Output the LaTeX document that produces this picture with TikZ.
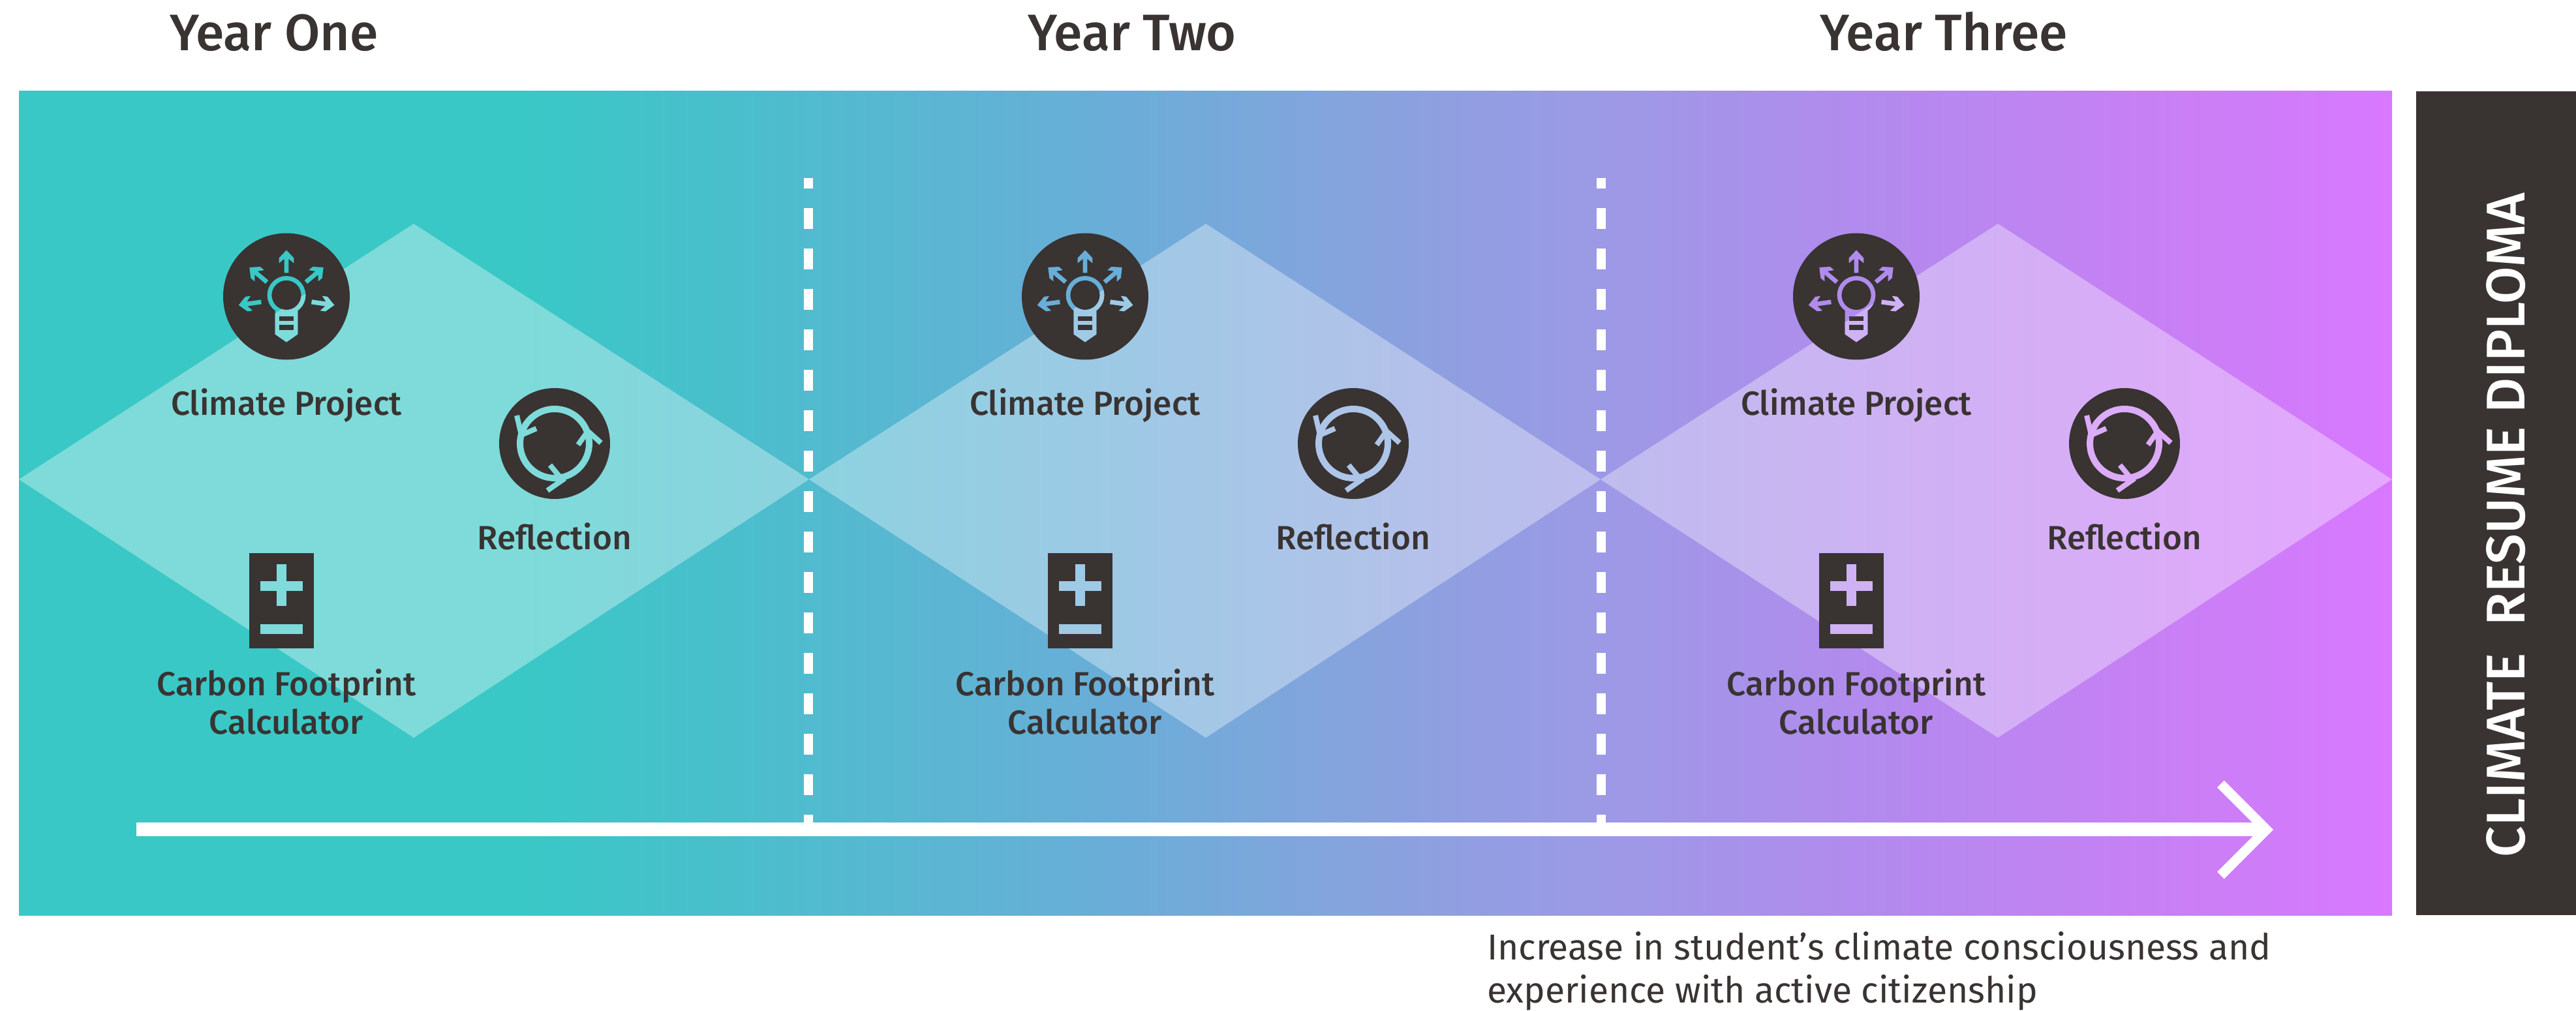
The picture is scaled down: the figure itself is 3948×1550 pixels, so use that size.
\documentclass[tikz,border=0pt]{standalone}
\usepackage{xcolor}
\usepackage{fontspec}
\usetikzlibrary{arrows.meta}
\setmainfont{Fira Sans}
\newfontfamily\labelfont{Fira Sans Medium}
\definecolor{darkbox}{HTML}{393332}
\definecolor{gradA}{HTML}{39C8C6}
\definecolor{gradB}{HTML}{4FBCCE}
\definecolor{gradC}{HTML}{6AADD8}
\definecolor{gradD}{HTML}{7FA6DC}
\definecolor{gradE}{HTML}{8F9FE0}
\definecolor{gradF}{HTML}{9D99E6}
\definecolor{gradG}{HTML}{B489EE}
\definecolor{gradH}{HTML}{C97FF5}
\definecolor{gradI}{HTML}{D878FF}
\pgfdeclarehorizontalshading{yearband}{100bp}{color(0bp)=(gradA); color(35.6bp)=(gradA); color(41.2bp)=(gradB); color(48.2bp)=(gradC); color(51.8bp)=(gradD); color(55bp)=(gradE); color(58.5bp)=(gradF); color(64.5bp)=(gradG); color(70.5bp)=(gradH); color(75bp)=(gradI); color(100bp)=(gradI)}
\begin{document}
\begin{tikzpicture}[
  x=0.1mm, y=-0.1mm,
  every node/.style={inner sep=0pt, outer sep=0pt},
  yeartitle/.style={font=\labelfont\fontsize{22.4}{26}\selectfont, text=darkbox, anchor=base},
  iconlabel/.style={font=\labelfont\fontsize{14.6}{16.8}\selectfont, text=darkbox, align=center, anchor=base},
  note/.style={font=\fontsize{15.7}{18.5}\selectfont, text=darkbox, align=left, anchor=base west},
  iconcircle/.style={circle, fill=darkbox},
  calcbox/.style={rectangle, fill=darkbox, minimum width=9.9mm, minimum height=14.6mm},
  light/.style={fill=white, fill opacity=0.35},
  yearline/.style={white, line width=1.4mm, dash pattern=on 3.2mm off 3mm, dash phase=1.6mm},
  bulb/.pic={
    \draw[line width=0.67mm] (0,-2) circle (26);
    \fill (-17.3,21) -- (17.3,21) -- (17.3,58) -- (0,70) -- (-17.3,58) -- cycle;
    \fill[darkbox] (-11,30.7) rectangle (11,37.3);
    \fill[darkbox] (-11,43.3) rectangle (11,51.3);
    \foreach \a in {90,40,-8,140,188}
      \fill[shift={(0,3)}, rotate=\a] (39,-3.4) -- (60.7,-3.4) -- (54,-11.3) -- (62,-11.3) -- (74,0) -- (62,11.3) -- (54,11.3) -- (60.7,3.4) -- (39,3.4) -- cycle;
  },
  cycle/.pic={
    \draw[line width=1mm] (0,0) circle (53);
    \draw[line width=0.8mm] (-58,-43) -- (-51,-13) -- (-28,-23);
    \draw[line width=0.8mm] (71,-1) -- (51,-19) -- (36,2);
    \draw[line width=0.8mm] (-11,72) -- (12,56) -- (-7,33);
  },
  plusminus/.pic={
    \fill (-33,-30) rectangle (32,-15);
    \fill (-8,-56) rectangle (7,8);
    \fill (-33,36) rectangle (32,51);
  }
]
\useasboundingbox (0,0) rectangle (3948,1550);

% band and side box
\shade[shading=yearband] (29,140) rectangle (3666,1403);
\fill[darkbox] (3703,140) rectangle (3948,1403);
\node[text=white, rotate=90, font=\labelfont\fontsize{23.75}{28}\selectfont] (diploma) at (3841,805) {CLIMATE\ \ RESUME DIPLOMA};

% diamonds
\path[light] (29,735) -- (634,343) -- (1240,735) -- (634,1131) -- cycle;
\path[light] (1240,735) -- (1848,343) -- (2453,735) -- (1848,1131) -- cycle;
\path[light] (2453,735) -- (3062,343) -- (3666,735) -- (3062,1131) -- cycle;

% year dividers and arrow
\coordinate (lineatop) at (1239,273);
\coordinate (lineabot) at (1239,1262);
\coordinate (linebtop) at (2454,273);
\coordinate (linebbot) at (2454,1262);
\coordinate (arrowstart) at (209,1272);
\coordinate (arrowend) at (3484,1272);
\draw[yearline] (lineatop) -- (lineabot);
\draw[yearline] (linebtop) -- (linebbot);
\draw[white, line width=2.1mm, -{Straight Barb[length=7mm, width=14mm, line width=1.5mm]}] (arrowstart) -- (arrowend);

% titles
\node[yeartitle] (yearone) at (420,78) {Year One};
\node[yeartitle] (yeartwo) at (1735,78) {Year Two};
\node[yeartitle] (yearthree) at (2979,78) {Year Three};

% year one
\node[iconcircle, minimum size=19.4mm] (bulba) at (439,454.5) {};
\pic[color=gradA] at (bulba) {bulb};
\begin{scope}
  \clip (29,735) -- (634,343) -- (1240,735) -- (634,1131) -- cycle;
  \pic[color=gradA!65!white] at (bulba) {bulb};
\end{scope}
\node[iconlabel] (projecta) at (439,637) {Climate Project};
\node[iconcircle, minimum size=17mm] (cyclea) at (850,680) {};
\pic[color=gradA!65!white] at (cyclea) {cycle};
\node[iconlabel] (reflecta) at (850,843) {Reflection};
\node[calcbox] (calca) at (431.5,921) {};
\pic[color=gradA!65!white] at (calca) {plusminus};
\node[iconlabel] (footprinta) at (439,1126) {Carbon Footprint\\Calculator};

% year two
\node[iconcircle, minimum size=19.4mm] (bulbb) at (1663,454.5) {};
\pic[color=gradC!95!gradB] at (bulbb) {bulb};
\begin{scope}
  \clip (1240,735) -- (1848,343) -- (2453,735) -- (1848,1131) -- cycle;
  \pic[color=gradC!65!white] at (bulbb) {bulb};
\end{scope}
\node[iconlabel] (projectb) at (1663,637) {Climate Project};
\node[iconcircle, minimum size=17mm] (cycleb) at (2074,680) {};
\pic[color=gradD!65!white] at (cycleb) {cycle};
\node[iconlabel] (reflectb) at (2074,843) {Reflection};
\node[calcbox] (calcb) at (1655.5,921) {};
\pic[color=gradC!65!white] at (calcb) {plusminus};
\node[iconlabel] (footprintb) at (1663,1126) {Carbon Footprint\\Calculator};

% year three
\node[iconcircle, minimum size=19.4mm] (bulbc) at (2845,454.5) {};
\pic[color=gradG!80!gradF] at (bulbc) {bulb};
\begin{scope}
  \clip (2453,735) -- (3062,343) -- (3666,735) -- (3062,1131) -- cycle;
  \pic[color=gradG!65!white] at (bulbc) {bulb};
\end{scope}
\node[iconlabel] (projectc) at (2845,637) {Climate Project};
\node[iconcircle, minimum size=17mm] (cyclec) at (3256,680) {};
\pic[color=gradH!65!white] at (cyclec) {cycle};
\node[iconlabel] (reflectc) at (3256,843) {Reflection};
\node[calcbox] (calcc) at (2837.5,921) {};
\pic[color=gradG!65!white] at (calcc) {plusminus};
\node[iconlabel] (footprintc) at (2845,1126) {Carbon Footprint\\Calculator};

% outcome
\node[note] (outcome) at (2279,1537) {Increase in student’s climate consciousness and\\experience with active citizenship};
\end{tikzpicture}
\end{document}
